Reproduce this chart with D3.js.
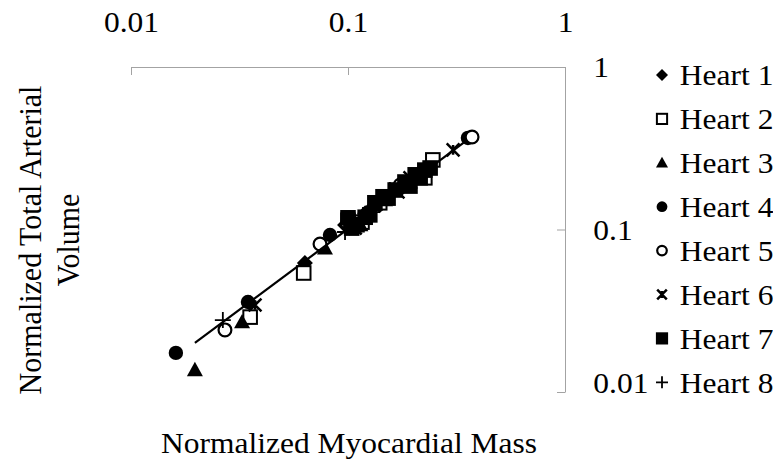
<!DOCTYPE html>
<html>
<head>
<meta charset="utf-8">
<script src="https://cdn.jsdelivr.net/npm/d3@7"></script>
<style>
body { margin: 0; background: #fff; }
text { font-family: "Liberation Serif", "Times New Roman", serif; fill: #000; }
.axis .domain, .axis .tick line { stroke: #a3a3a3; stroke-width: 1; }
</style>
</head>
<body>
<svg id="chart" width="773" height="460"></svg>
<script>
// series names, in legend order
var seriesNames = ["Heart 1", "Heart 2", "Heart 3", "Heart 4", "Heart 5", "Heart 6", "Heart 7", "Heart 8"];
var markerTypes = ["diamond", "squareOpen", "triangle", "circle", "circleOpen", "star", "square", "plus"];

// [normalized myocardial mass, normalized total arterial volume]
var heart1 = [[0.0354, 0.0352], [0.0633, 0.0622], [0.0969, 0.1066], [0.111, 0.105], [0.120, 0.126],
              [0.129, 0.136], [0.140, 0.141], [0.156, 0.163], [0.177, 0.180], [0.215, 0.226]];
var heart2 = [[0.0354, 0.0289], [0.0625, 0.054], [0.100, 0.114], [0.116, 0.111], [0.140, 0.146],
              [0.226, 0.208], [0.246, 0.268]];
var heart3 = [[0.0197, 0.0137], [0.0325, 0.027], [0.0783, 0.0769], [0.114, 0.107], [0.148, 0.152], [0.193, 0.196]];
var heart4 = [[0.0161, 0.0174], [0.0346, 0.0358], [0.0826, 0.0925], [0.120, 0.119], [0.357, 0.366]];
var heart5 = [[0.0271, 0.0241], [0.0743, 0.0814], [0.102, 0.111], [0.174, 0.188], [0.373, 0.371]];
var heart6 = [[0.0373, 0.0343], [0.108, 0.102], [0.148, 0.159], [0.170, 0.170], [0.193, 0.208], [0.305, 0.309]];
var heart7 = [[0.100, 0.118], [0.104, 0.102], [0.110, 0.107], [0.120, 0.119], [0.126, 0.123], [0.133, 0.146],
              [0.145, 0.159], [0.153, 0.156], [0.165, 0.175], [0.183, 0.196], [0.193, 0.185],
              [0.204, 0.217], [0.215, 0.208], [0.226, 0.232], [0.239, 0.239]];
var heart8 = [[0.0265, 0.0277], [0.0969, 0.0965], [0.129, 0.128], [0.156, 0.175]];

var xTicks = [0.01, 0.1, 1];
var yTicks = [0.01, 0.1, 1];

// power trendline y = a * x^b, and the mass range it spans
var trendCoef = [0.997, 0.995];
var trendRange = [0.0197, 0.35];

var allHearts = [heart1, heart2, heart3, heart4, heart5, heart6, heart7, heart8];

var fontPx = 30;
var stretch = 1.05; // text in the reference is slightly wider than tall

var svg = d3.select("#chart");

var x = d3.scaleLog().domain([0.01, 1]).range([131, 565]);
var y = d3.scaleLog().domain([0.01, 1]).range([392, 67]);

var fmt = function(d) { return String(d); };

// top axis, ticks pointing down into the plot
var xAxisG = svg.append("g")
    .attr("class", "axis")
    .attr("transform", "translate(0,67)")
    .call(d3.axisTop(x).tickValues(xTicks).tickFormat(fmt).tickSizeInner(-8).tickSizeOuter(0).tickPadding(35));

// right axis, ticks pointing left into the plot
var yAxisG = svg.append("g")
    .attr("class", "axis")
    .attr("transform", "translate(565,0)")
    .call(d3.axisRight(y).tickValues(yTicks).tickFormat(fmt).tickSizeInner(-8).tickSizeOuter(0).tickPadding(27));

svg.selectAll(".axis text")
    .style("font-size", fontPx + "px")
    .style("font-family", "'Liberation Serif', 'Times New Roman', serif")
    .attr("fill", "#000")
    .attr("transform", "scale(" + stretch + ",1)");

// the lowest label sits above its tick
yAxisG.selectAll(".tick text")
    .filter(function(d) { return d === yTicks[0]; })
    .attr("dy", "0em");

// marker drawing
function drawMarker(g, type, r) {
    if (type === "diamond") {
        g.append("path").attr("d", "M0," + (-r) + "L" + r + ",0L0," + r + "L" + (-r) + ",0Z").attr("fill", "#000");
    } else if (type === "squareOpen" || type === "square") {
        var s = r * 0.85;
        g.append("rect").attr("x", -s).attr("y", -s).attr("width", 2 * s).attr("height", 2 * s)
            .attr("fill", type === "square" ? "#000" : "#fff")
            .attr("stroke", "#000").attr("stroke-width", 2);
    } else if (type === "triangle") {
        g.append("path").attr("d", "M0," + (-r) + "L" + r + "," + (r * 0.8) + "L" + (-r) + "," + (r * 0.8) + "Z").attr("fill", "#000");
    } else if (type === "circle" || type === "circleOpen") {
        g.append("circle").attr("r", type === "circle" ? r * 0.9 : r * 0.8)
            .attr("fill", type === "circle" ? "#000" : "#fff")
            .attr("stroke", "#000").attr("stroke-width", type === "circle" ? 0 : 2.2);
    } else if (type === "star") {
        var a = r * 0.8;
        g.append("path").attr("d", "M" + (-a) + "," + (-a) + "L" + a + "," + a + "M" + a + "," + (-a) + "L" + (-a) + "," + a + "M0," + (-r * 0.6) + "L0," + (r * 0.6))
            .attr("stroke", "#000").attr("stroke-width", 2.5).attr("fill", "none");
    } else if (type === "plus") {
        g.append("path").attr("d", "M" + (-r) + ",0L" + r + ",0M0," + (-r) + "L0," + r)
            .attr("stroke", "#000").attr("stroke-width", 1.8).attr("fill", "none");
    }
}

// points
var plot = svg.append("g").attr("class", "points");
allHearts.forEach(function(pts, i) {
    plot.selectAll(".h" + i)
        .data(pts)
        .enter().append("g")
        .attr("class", "h" + i)
        .attr("transform", function(d) { return "translate(" + x(d[0]) + "," + y(d[1]) + ")"; })
        .each(function() { drawMarker(d3.select(this), markerTypes[i], 8); });
});

// trendline
function fitY(v) { return trendCoef[0] * Math.pow(v, trendCoef[1]); }

svg.append("line")
    .attr("x1", x(trendRange[0])).attr("y1", y(fitY(trendRange[0])))
    .attr("x2", x(trendRange[1])).attr("y2", y(fitY(trendRange[1])))
    .attr("stroke", "#000").attr("stroke-width", 2.2);

// legend
var legend = svg.append("g").attr("class", "legend");
var rows = legend.selectAll("g").data(seriesNames).enter().append("g")
    .attr("transform", function(d, i) { return "translate(662," + (75 + i * 43.9) + ")"; });
rows.each(function(d, i) { drawMarker(d3.select(this), markerTypes[i], 6); });
rows.append("text")
    .attr("x", 17)
    .attr("dy", "0.34em")
    .attr("transform", "scale(" + stretch + ",1)")
    .style("font-size", fontPx + "px")
    .text(function(d) { return d; });

// axis titles
svg.append("text")
    .attr("transform", "translate(349,453) scale(" + stretch + ",1)")
    .attr("text-anchor", "middle")
    .style("font-size", fontPx + "px")
    .text("Normalized Myocardial Mass");

svg.append("text")
    .attr("transform", "translate(41,240) rotate(-90) scale(1," + stretch + ")")
    .attr("text-anchor", "middle")
    .style("font-size", fontPx + "px")
    .text("Normalized Total Arterial");

svg.append("text")
    .attr("transform", "translate(79,240) rotate(-90) scale(1," + stretch + ")")
    .attr("text-anchor", "middle")
    .style("font-size", fontPx + "px")
    .text("Volume");
</script>
</body>
</html>
